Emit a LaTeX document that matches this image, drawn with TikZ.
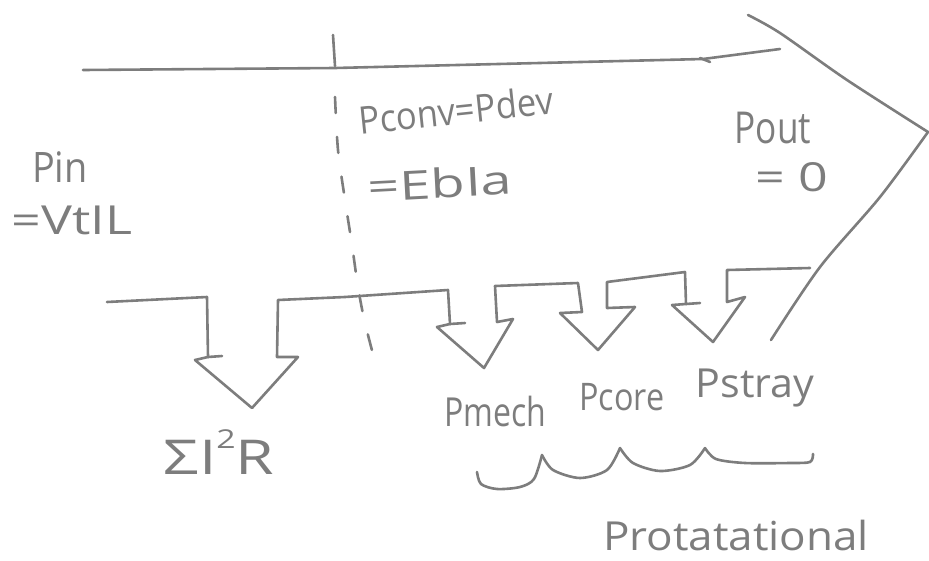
\documentclass[tikz,border=0pt]{standalone}
\usepackage{fontspec}
\usepackage{graphicx}
\setmainfont{Open Sans}
\definecolor{ink}{RGB}{125,125,125}
\newcommand{\hw}[3]{\scalebox{#2}[1]{\fontsize{#1}{#1}\selectfont #3}}

\begin{document}
\begin{tikzpicture}[x=1pt,y=-1pt,
    sketch/.style={draw=ink, line width=2.6pt, line cap=round, line join=round},
    hand/.style={text=ink, inner sep=0pt}]
  \useasboundingbox (0,0) rectangle (929,560);

  % input power flow, big arrow
  \draw[sketch] (83,70) -- (335,68) -- (703,59) -- (780,49);
  \draw[sketch] (700,58) -- (710,62);
  \draw[sketch] (333,35) -- (335,66);
  \draw[sketch] plot[smooth] coordinates {(748,15) (780,33) (847,80) (928,132)};
  \draw[sketch] plot[smooth] coordinates {(928,132) (880,197) (820,267) (771,340)};

  % losses branching off
  \draw[sketch] (107,302) -- (207,297) -- (208,357) -- (195,360) -- (252,408)
    -- (298,357) -- (277,357) -- (278,300) -- (345,297) -- (448,290)
    -- (450,324) -- (437,327) -- (484,368) -- (513,319) -- (497,322)
    -- (495,286) -- (578,283) -- (582,312) -- (560,313) -- (598,350)
    -- (635,307) -- (607,308) -- (607,282) -- (685,272) -- (686,304)
    -- (672,305) -- (713,342) -- (745,297) -- (727,302) -- (727,270)
    -- (810,268);
  \draw[sketch] (208,357) -- (222,356);
  \draw[sketch] (450,324) -- (465,323);
  \draw[sketch] (686,304) -- (700,303);

  % conversion boundary
  \draw[sketch, dash pattern=on 16pt off 24pt]
    plot[smooth] coordinates {(335,97) (338,150) (345,200) (352,245) (358,287) (365,323) (378,373)};

  % rotational losses brace
  \draw[sketch] plot[smooth] coordinates {(477,472) (481,484) (497,489) (520,487) (534,479) (542,455)};
  \draw[sketch] plot[smooth] coordinates {(542,455) (553,470) (580,478) (607,470) (620,448)};
  \draw[sketch] plot[smooth] coordinates {(620,448) (633,463) (660,471) (690,465) (705,448)};
  \draw[sketch] plot[smooth] coordinates {(705,448) (716,459) (745,463) (790,463) (810,462) (813,454)};

  \node[hand] (pin) at (60,167) {\hw{42}{0.9}{Pin}};
  \node[hand] (vtil) at (72,220) {\hw{40}{1.3}{=VtIL}};
  \node[hand, rotate=6] (pconv) at (456,110) {\hw{38}{0.91}{Pconv=Pdev}};
  \node[hand, rotate=3] (ebia) at (440,183) {\hw{40}{1.4}{=EbIa}};
  \node[hand] (pout) at (773,128) {\hw{44}{0.8}{Pout}};
  \node[hand] (zero) at (792,177) {\hw{40}{1.3}{= 0}};
  \node[hand] (cu) at (219,452) {\hw{48}{1.3}{ΣI\raisebox{0.55em}{\fontsize{26}{26}\selectfont 2}R}};
  \node[hand] (pmech) at (495,411) {\hw{40}{0.8}{Pmech}};
  \node[hand] (pcore) at (622,397) {\hw{38}{0.85}{Pcore}};
  \node[hand] (pstray) at (755,388) {\hw{40}{1.03}{Pstray}};
  \node[hand] (prot) at (736,535) {\hw{40}{1.1}{Protatational}};
\end{tikzpicture}
\end{document}
